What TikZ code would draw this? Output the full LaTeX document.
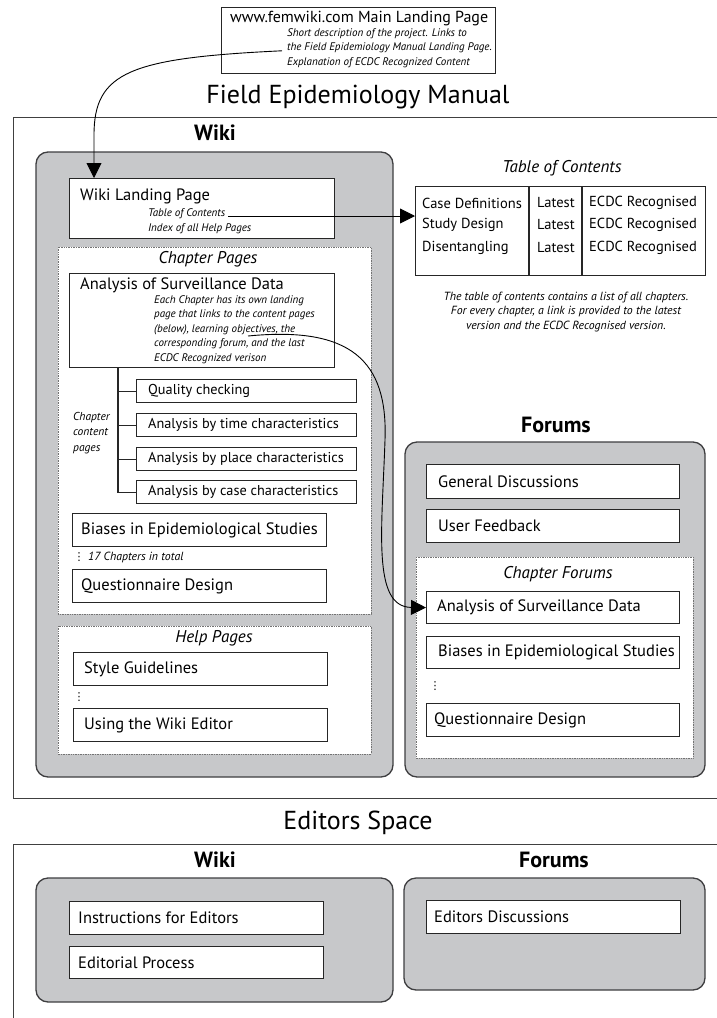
\documentclass[tikz,border=0pt]{standalone}
\usepackage{fontspec}
\setmainfont{PT Sans}
\newfontfamily\dotfont{DejaVu Sans}
\usetikzlibrary{arrows.meta}

\definecolor{areagrey}{RGB}{199,200,202}
\definecolor{rimgrey}{RGB}{62,62,64}
\newcommand{\setfs}[2]{\fontsize{#1}{#2}\selectfont}

\begin{document}
\begin{tikzpicture}[x=1pt,y=-1pt,>={Triangle[length=15pt,width=15pt]},
  area/.style={draw=rimgrey,fill=areagrey,line width=1.3pt,rounded corners=12pt},
  group/.style={draw=black!55,fill=white,densely dotted,line width=0.7pt},
  page/.style={draw=black!85,fill=white,line width=1.1pt,anchor=north west,inner sep=0pt},
  pagetext/.style={anchor=west,inner sep=0pt},
  big/.style={font=\setfs{16.5}{19}},
  small/.style={font=\setfs{14.3}{16}},
  note/.style={font=\setfs{11}{14.5}\itshape,inner sep=0pt},
  grouptitle/.style={font=\setfs{17}{19}\itshape},
  heading/.style={font=\setfs{26}{28}},
  part/.style={font=\setfs{22}{24}\bfseries},
  vdot/.style={font=\dotfont\setfs{11}{11},inner sep=0pt},
  spacerule/.style={draw=black!75,line width=0.8pt},
  link/.style={->,line width=0.9pt}]
\useasboundingbox (0,0) rectangle (716,1018);

% main landing page
\node[page,minimum width=274,minimum height=66] (main) at (221,7) {};
\node[pagetext,font=\setfs{16}{18}] (main-t) at (230,19) {www.femwiki.com Main Landing Page};
\node[note,anchor=north west,align=left] (main-n) at (287,28)
  {Short description of the project. Links to\\the Field Epidemiology Manual Landing Page.\\Explanation of ECDC Recognized Content};

\node[heading] (femtitle) at (358,97) {Field Epidemiology Manual};
\draw[spacerule] (720,117) -| (13,798) -- (720,798);

% wiki
\node[part] (wikiL) at (215,133) {Wiki};
\draw[area] (36,152) rectangle (393,777);
\node[page,minimum width=265,minimum height=60] (wland) at (69,178) {};
\node[pagetext,big] (wland-t) at (80,196) {Wiki Landing Page};
\node[note,anchor=west] (tocref) at (148,214) {Table of Contents};
\node[note,anchor=west] (helpref) at (148,229) {Index of all Help Pages};

% chapter pages
\draw[group] (58,247) rectangle (371,614);
\node[grouptitle] (chapL) at (208,259) {Chapter Pages};
\node[page,minimum width=265,minimum height=94] (chap) at (69,273) {};
\node[pagetext,big] (chap-t) at (80,285) {Analysis of Surveillance Data};
\node[note,anchor=north west,align=left] (chap-n) at (154,295)
  {Each Chapter has its own landing\\page that links to the content pages\\(below), learning objectives, the\\corresponding forum, and the last\\ECDC Recognized verison};
\coordinate (objref) at (248,336);

\foreach \y/\t [count=\i] in {379/Quality checking,413/Analysis by time characteristics,
    447/Analysis by place characteristics,480/Analysis by case characteristics}{
  \node[page,minimum width=220,minimum height=23] (sub\i) at (136,\y) {};
  \node[pagetext,small] (sub\i-t) at ([xshift=12pt]sub\i.west) {\t};
  \draw[line width=1.1pt,black!85] ([xshift=49pt]chap.south west) |- (sub\i.west);
}
\node[note,font=\setfs{11.5}{15.5}\itshape,anchor=north west,align=left] (subL) at (73,412) {Chapter\\content\\pages};

\node[page,minimum width=254,minimum height=33] (bias) at (72,513) {};
\node[pagetext,big] (bias-t) at ([xshift=9pt]bias.west) {Biases in Epidemiological Studies};
\node[vdot] (dots1) at (79,557) {⋮};
\node[note,font=\setfs{11.8}{14}\itshape,anchor=west] (chapcount) at (88,557) {17 Chapters in total};
\node[page,minimum width=254,minimum height=33] (quest) at (72,569) {};
\node[pagetext,big] (quest-t) at ([xshift=9pt]quest.west) {Questionnaire Design};

% help pages
\draw[group] (58,626) rectangle (371,754);
\node[grouptitle] (helpL) at (214,638) {Help Pages};
\node[page,minimum width=254,minimum height=33] (style) at (73,652) {};
\node[pagetext,big] (style-t) at ([xshift=11pt]style.west) {Style Guidelines};
\node[vdot] (dots2) at (79,697) {⋮};
\node[page,minimum width=254,minimum height=33] (editor) at (73,708) {};
\node[pagetext,big] (editor-t) at ([xshift=11pt]editor.west) {Using the Wiki Editor};

% table of contents
\node[grouptitle] (tocL) at (562,168) {Table of Contents};
\node[page,minimum width=290,minimum height=89] (toc) at (415,186) {};
\draw[line width=1.1pt,black!85] ([xshift=114pt]toc.north west) -- ([xshift=114pt]toc.south west);
\draw[line width=1.1pt,black!85] ([xshift=167pt]toc.north west) -- ([xshift=167pt]toc.south west);
\foreach \y/\t [count=\i] in {203/Case Definitions,225/Study Design,248/Disentangling}{
  \node[pagetext,small,font=\setfs{14.5}{16}] (toc-a\i) at (422,\y) {\t};
  \node[pagetext,small,font=\setfs{14.5}{16}] (toc-b\i) at (537,\y) {Latest};
  \node[pagetext,small,font=\setfs{14.5}{16}] (toc-c\i) at (589,\y) {ECDC Recognised};
}
\node[note,font=\setfs{11.8}{14.5}\itshape,align=center] (tocnote) at (566,312)
  {The table of contents contains a list of all chapters.\\For every chapter, a link is provided to the latest\\version and the ECDC Recognised version.};

% forums
\node[part] (forumL) at (556,425) {Forums};
\draw[area] (405,442) rectangle (705,777);
\node[page,minimum width=253,minimum height=34] (general) at (426,464) {};
\node[pagetext,big] (general-t) at ([xshift=12pt]general.west) {General Discussions};
\node[page,minimum width=253,minimum height=33] (feedback) at (426,509) {};
\node[pagetext,big] (feedback-t) at ([xshift=12pt]feedback.west) {User Feedback};
\draw[group] (416,557) rectangle (693,758);
\node[grouptitle] (fchapL) at (558,574) {Chapter Forums};
\node[page,minimum width=253,minimum height=32] (fchap) at (426,591) {};
\node[pagetext,big] (fchap-t) at ([xshift=11pt]fchap.west) {Analysis of Surveillance Data};
\node[page,minimum width=253,minimum height=32] (fbias) at (426,636) {};
\node[pagetext,big] (fbias-t) at ([xshift=12pt]fbias.west) {Biases in Epidemiological Studies};
\node[vdot] (dots3) at (435,686) {⋮};
\node[page,minimum width=253,minimum height=33] (fquest) at (426,703) {};
\node[pagetext,big] (fquest-t) at ([xshift=8pt]fquest.west) {Questionnaire Design};

% links
\draw[link] ([xshift=-5pt,yshift=-3pt]main-n.west) .. controls (130,58) and (94,72) .. (94,135) -- ([xshift=25pt]wland.north west);
\draw[link] ([xshift=3pt,yshift=-2pt]tocref.east) -- ([yshift=-2pt]tocref.east -| toc.west);
\draw[link] (objref) .. controls (350,326) and (388,360) .. (385,440) .. controls (382,530) and (372,607) .. (fchap.west);

% editors space
\node[heading] (edtitle) at (358,823) {Editors Space};
\draw[spacerule] (720,844) -| (13,1030);
\node[part] (ewikiL) at (215,860) {Wiki};
\node[part] (eforumL) at (554,860) {Forums};
\draw[area] (36,878) rectangle (393,1002);
\draw[area] (404,878) rectangle (705,990);
\node[page,minimum width=254,minimum height=33] (instr) at (69,901) {};
\node[pagetext,big] (instr-t) at ([xshift=9pt]instr.west) {Instructions for Editors};
\node[page,minimum width=254,minimum height=32] (process) at (69,946) {};
\node[pagetext,big] (process-t) at ([xshift=9pt]process.west) {Editorial Process};
\node[page,minimum width=254,minimum height=33] (ediscuss) at (426,900) {};
\node[pagetext,big] (ediscuss-t) at ([xshift=8pt]ediscuss.west) {Editors Discussions};
\end{tikzpicture}
\end{document}
